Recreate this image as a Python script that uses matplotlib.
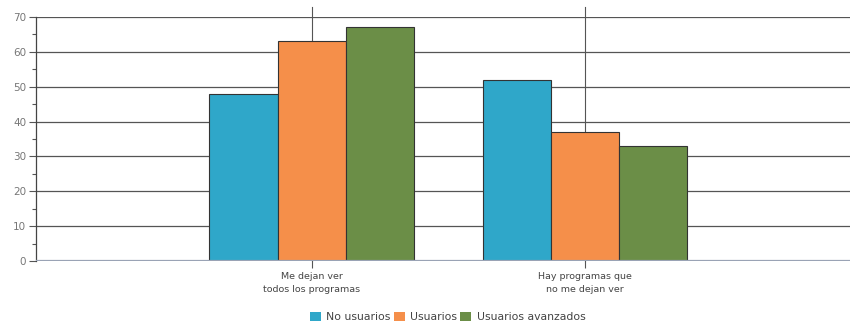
import matplotlib
matplotlib.use("Agg")
import matplotlib.pyplot as plt
import numpy as np
from matplotlib.ticker import MultipleLocator

categories = ["Me dejan ver\ntodos los programas", "Hay programas que\nno me dejan ver"]
series_names = ["No usuarios", "Usuarios", "Usuarios avanzados"]
no_usuarios = [48, 52]
usuarios = [63, 37]
avanzados = [67, 33]
colors = ["#2fa7c9", "#f58f4a", "#6b8e47"]

fig = plt.figure(figsize=(8.56, 3.27), dpi=100)
ax = fig.add_axes([0.042, 0.202, 0.951, 0.746])

x = np.arange(1, len(categories) + 1)
w = 0.25
for i, (vals, name, c) in enumerate(zip([no_usuarios, usuarios, avanzados], series_names, colors)):
    ax.bar(x + (i - 1) * w, vals, w, color=c, edgecolor="#333333", linewidth=0.8,
           label=name, zorder=3)

ax.set_xlim(-0.01, 2.97)
ax.set_ylim(0, 70)
ax.yaxis.set_major_locator(MultipleLocator(10))
ax.yaxis.set_minor_locator(MultipleLocator(5))
ax.set_xticks(x)
ax.set_xticklabels(categories, fontsize=6.8, color="#444444", linespacing=1.55)
ax.tick_params(axis="y", labelsize=7.5, colors="#555555", length=5, width=0.8, pad=2)
ax.tick_params(axis="y", which="minor", length=3, width=0.8, color="#555555")
ax.tick_params(axis="x", length=5, width=0.8, color="#555555", pad=3)
for t in ax.get_yticklabels():
    t.set_color("#777777")

ax.grid(axis="y", color="#555555", linewidth=0.9, zorder=0)
for xv in x:
    ax.axvline(xv, color="#555555", linewidth=0.8, zorder=1, ymax=1.04, clip_on=False)
ax.axhline(0, color="#9aa3b5", linewidth=1.6, zorder=4)

for s in ["top", "right", "bottom"]:
    ax.spines[s].set_visible(False)
ax.spines["left"].set_color("#444444")
ax.spines["left"].set_linewidth(0.9)

leg = fig.legend(loc="lower center", bbox_to_anchor=(0.523, -0.015), ncol=3, frameon=False,
                 fontsize=7.8, handlelength=1.0, handleheight=1.0, handletextpad=0.5,
                 columnspacing=0.3)
for t in leg.get_texts():
    t.set_color("#444444")
for h in leg.legend_handles:
    h.set_edgecolor("none")

fig.savefig("out.png", dpi=100)
